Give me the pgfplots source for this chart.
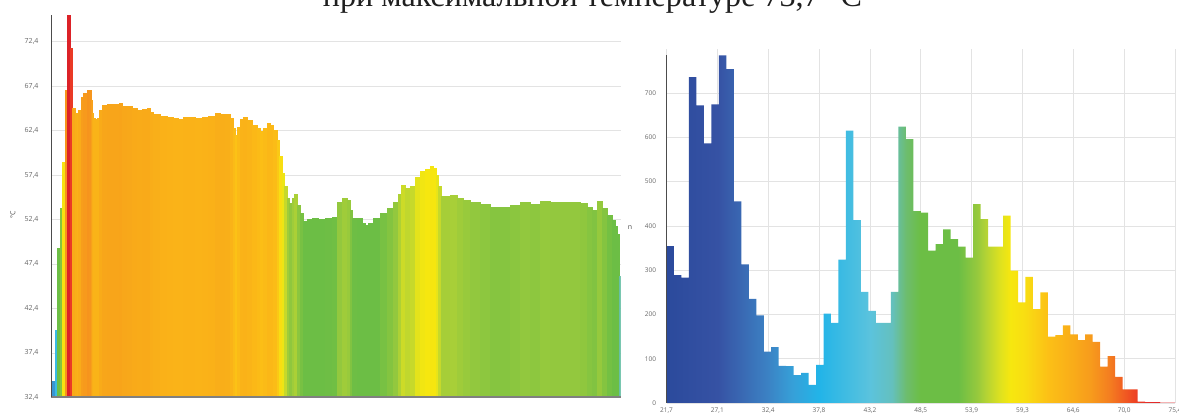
\documentclass[border=0pt]{standalone}
\usepackage{pgfplots}
\pgfplotsset{compat=1.18}
\usepackage{pgfplotstable}
\usepackage{graphicx}
\usepackage{fontspec}
\setmainfont{Open Sans}
\newfontfamily\titlefont{Liberation Serif}

\pgfplotstableread{
x v
51 34.2
55 40.0
57.3 49.2
60 53.7
62 58.8
65 67.0
67.3 75.4
70 71.7
72.3 64.9
75 64.4
76.7 64.0
78.3 64.7
80.7 66.2
83.3 66.6
86.7 67.0
89.3 66.9
90.7 65.8
91.7 64.4
92.7 63.8
95 63.7
97.3 63.8
99.3 64.7
101.7 65.3
106.7 65.4
113.3 65.4
119.3 65.5
121.7 65.2
126.7 65.1
131.7 64.9
136.7 64.7
141.7 64.8
146.7 64.9
150 64.5
153.3 64.2
160 64.0
166.7 63.9
173.3 63.8
178.3 63.7
183.3 63.9
190 63.9
195 63.8
201.7 63.9
208.3 64.0
215 64.4
220 64.3
225 64.2
230 63.8
233.3 62.7
235 61.9
236.7 62.8
240 63.7
243.3 63.9
246.7 63.6
251.7 63.0
256.7 62.7
260 62.3
263.3 62.7
266.7 63.2
270 63.0
273.3 62.5
276.7 61.3
279.3 59.5
281.7 57.6
284.3 56.1
286.7 54.8
289 54.2
291.7 54.8
294.3 55.2
296.7 54.0
300 53.1
303.3 52.2
306.7 52.4
311.7 52.5
318.3 52.4
325 52.6
331.7 52.7
335 52.7
336.7 54.4
341.7 54.8
346.7 54.6
350 53.5
351.7 52.6
356.7 52.5
361.7 52.0
365 51.8
368.3 52.0
373.3 52.5
380 53.1
386.7 53.7
393.3 54.4
398.3 55.3
400.7 56.3
405 55.9
410 56.1
415 57.2
420 57.8
425 58.1
430 58.4
433.3 58.2
436 57.4
438.3 56.1
440.7 55.0
445 55.0
450 55.1
456.7 54.8
463.3 54.6
470 54.3
480 54.1
490 53.8
500 53.8
510 54.0
520 54.3
530 54.1
540 54.5
550 54.4
560 54.4
570 54.4
580 54.2
586.7 53.8
591.7 53.5
596.7 54.5
601.7 53.7
606.7 52.9
611.7 52.3
615 51.6
617.3 50.7
619 46.0
620.5 46.0
}\leftdata

\pgfplotstableread{
x n
21.70 354
22.49 289
23.28 283
24.07 736
24.86 672
25.65 586
26.44 674
27.23 785
28.02 754
28.81 455
29.60 313
30.39 235
31.18 198
31.97 116
32.76 126
33.55 84
34.34 83
35.12 63
35.91 68
36.70 41
37.49 86
38.28 202
39.07 181
39.86 324
40.65 615
41.44 413
42.23 251
43.02 208
43.81 181
44.60 181
45.39 251
46.18 624
46.97 596
47.76 433
48.55 430
49.34 344
50.13 359
50.92 392
51.71 370
52.50 353
53.29 328
54.08 449
54.87 415
55.66 353
56.45 353
57.24 423
58.03 299
58.82 227
59.61 285
60.40 212
61.19 250
61.98 150
62.76 153
63.55 175
64.34 155
65.13 142
65.92 155
66.71 138
67.50 82
68.29 106
69.08 59
69.87 31
70.66 31
71.45 3
72.24 2
73.03 2
73.82 1
74.61 1
75.40 0
}\histdata

% temperature colour scale (21.7 ... 75.4 degC)
\definecolor{t01}{RGB}{43,74,156}
\definecolor{t02}{RGB}{54,82,164}
\definecolor{t03}{RGB}{58,108,181}
\definecolor{t04}{RGB}{59,130,196}
\definecolor{t05}{RGB}{54,160,216}
\definecolor{t06}{RGB}{34,180,232}
\definecolor{t07}{RGB}{91,195,221}
\definecolor{t08}{RGB}{100,192,190}
\definecolor{t09}{RGB}{109,189,110}
\definecolor{t10}{RGB}{108,190,69}
\definecolor{t11}{RGB}{108,190,69}
\definecolor{t12}{RGB}{150,201,61}
\definecolor{t13}{RGB}{182,212,51}
\definecolor{t14}{RGB}{224,226,30}
\definecolor{t15}{RGB}{246,231,15}
\definecolor{t16}{RGB}{248,222,18}
\definecolor{t17}{RGB}{252,192,22}
\definecolor{t18}{RGB}{249,172,25}
\definecolor{t19}{RGB}{247,155,28}
\definecolor{t20}{RGB}{244,125,32}
\definecolor{t21}{RGB}{238,70,35}
\definecolor{t22}{RGB}{229,45,42}
\definecolor{t23}{RGB}{220,34,40}

\pgfdeclarehorizontalshading{histshade}{100bp}{%
  color(0bp)=(t01); color(25bp)=(t01); color(30.03bp)=(t02); color(32.73bp)=(t03);
  color(34.96bp)=(t04); color(37.38bp)=(t05); color(39.99bp)=(t06); color(45.02bp)=(t07);
  color(47.16bp)=(t08); color(48.56bp)=(t09); color(49.95bp)=(t10); color(53.68bp)=(t11);
  color(55.54bp)=(t12); color(56.47bp)=(t13); color(57.87bp)=(t14); color(58.80bp)=(t15);
  color(60.20bp)=(t16); color(62.52bp)=(t17); color(64.94bp)=(t18); color(66.71bp)=(t19);
  color(68.58bp)=(t20); color(70.90bp)=(t21); color(72.30bp)=(t22); color(75bp)=(t23);
  color(100bp)=(t23)}

\pgfplotsset{
  colormap={temp}{
    color(217pt)=(t01); color(271pt)=(t02); color(300pt)=(t03); color(324pt)=(t04);
    color(350pt)=(t05); color(378pt)=(t06); color(432pt)=(t07); color(455pt)=(t08);
    color(470pt)=(t09); color(485pt)=(t10); color(525pt)=(t11); color(545pt)=(t12);
    color(555pt)=(t13); color(570pt)=(t14); color(580pt)=(t15); color(595pt)=(t16);
    color(620pt)=(t17); color(646pt)=(t18); color(665pt)=(t19); color(685pt)=(t20);
    color(710pt)=(t21); color(725pt)=(t22); color(754pt)=(t23)
  },
  mygrid/.style={major grid style={draw=black!11, line width=0.6pt}},
}

\pgfplotstablegetrowsof{\leftdata}
\pgfmathtruncatemacro\Nleft{\pgfplotsretval-2}

\begin{document}
\begin{tikzpicture}[x=1pt,y=1pt]
\useasboundingbox (0,0) rectangle (1179,419);
\clip (0,0) rectangle (1179,419);

\node[anchor=base, text=black!88, inner sep=0pt] at (592.5,412)
  {\resizebox{539pt}{!}{\titlefont при максимальной температуре 73,7~°С}};

% left: temperature profile
\begin{axis}[
  at={(51pt,21.7pt)}, anchor=south west, scale only axis,
  width=569.5pt, height=382.3pt,
  xmin=51, xmax=620.5, ymin=32.4, ymax=75.4,
  xtick=\empty,
  ytick={32.4,37.4,42.4,47.4,52.4,57.4,62.4,67.4,72.4},
  yticklabels={{32,4},{37,4},{42,4},{47,4},{52,4},{57,4},{62,4},{67,4},{72,4}},
  ymajorgrids, mygrid,
  axis line style={draw=none},
  major tick length=0pt,
  tick label style={font=\fontsize{7}{8}\selectfont, text=black!60},
  yticklabel style={xshift=-9pt},
  ylabel={°C},
  every axis y label/.style={at={(axis description cs:-0.0668,0.477)}, rotate=90, anchor=center, font=\fontsize{7}{8}\selectfont, text=black!70},
  after end axis/.code={
    \draw[black!50, line width=1.8pt] (rel axis cs:0,0) -- (rel axis cs:1,0);
    \draw[black!70, line width=0.8pt] (rel axis cs:0,0) -- (rel axis cs:0,1);
  },
]
\pgfplotsforeachungrouped \i in {0,...,\Nleft}{%
  \pgfplotstablegetelem{\i}{x}\of{\leftdata}\let\xa\pgfplotsretval
  \pgfmathtruncatemacro\j{\i+1}%
  \pgfplotstablegetelem{\j}{x}\of{\leftdata}\let\xb\pgfplotsretval
  \pgfplotstablegetelem{\i}{v}\of{\leftdata}\let\va\pgfplotsretval
  \pgfmathtruncatemacro\m{(\va-21.7)*18.622}%
  \pgfplotscolormapdefinemappedcolor{\m}%
  \colorlet{lc\i}{mapped color}%
  \edef\cmd{\noexpand\addplot[fill=lc\i, draw=lc\i, line width=0.3pt, forget plot]
    coordinates {(\xa,30) (\xb,30) (\xb,\va) (\xa,\va)};}%
  \cmd
}
\end{axis}

% right: histogram
\begin{axis}[
  at={(666.5pt,16pt)}, anchor=south west, scale only axis,
  width=508.5pt, height=354.3pt,
  xmin=21.7, xmax=75.4, ymin=0, ymax=800,
  xtick={21.7,27.07,32.44,37.81,43.18,48.55,53.92,59.29,64.66,70.03,75.4},
  xticklabels={{21,7},{27,1},{32,4},{37,8},{43,2},{48,5},{53,9},{59,3},{64,6},{70,0},{75,4}},
  ytick={0,100,200,300,400,500,600,700},
  grid=major, mygrid,
  axis line style={draw=none},
  major tick length=0pt,
  /pgf/number format/assume math mode=true,
  tick label style={font=\fontsize{6.5}{7.5}\selectfont, text=black!60},
  yticklabel style={xshift=-7pt},
  xticklabel style={yshift=-1.5pt},
  ylabel={n}, xlabel={°C},
  every axis y label/.style={at={(axis description cs:-0.0718,0.494)}, rotate=0, anchor=center, font=\fontsize{7}{8}\selectfont, text=black!70},
  every axis x label/.style={at={(axis description cs:0.453,-0.0367)}, anchor=north, font=\fontsize{6.5}{7.5}\selectfont, text=black!70},
  after end axis/.code={
    \draw[black!70, line width=0.8pt] (rel axis cs:0,0) -- (rel axis cs:0,0.982);
  },
]
\addplot[const plot, draw=none, shade, shading=histshade]
  table[x=x, y=n] {\histdata} \closedcycle;
\end{axis}
\end{tikzpicture}
\end{document}
